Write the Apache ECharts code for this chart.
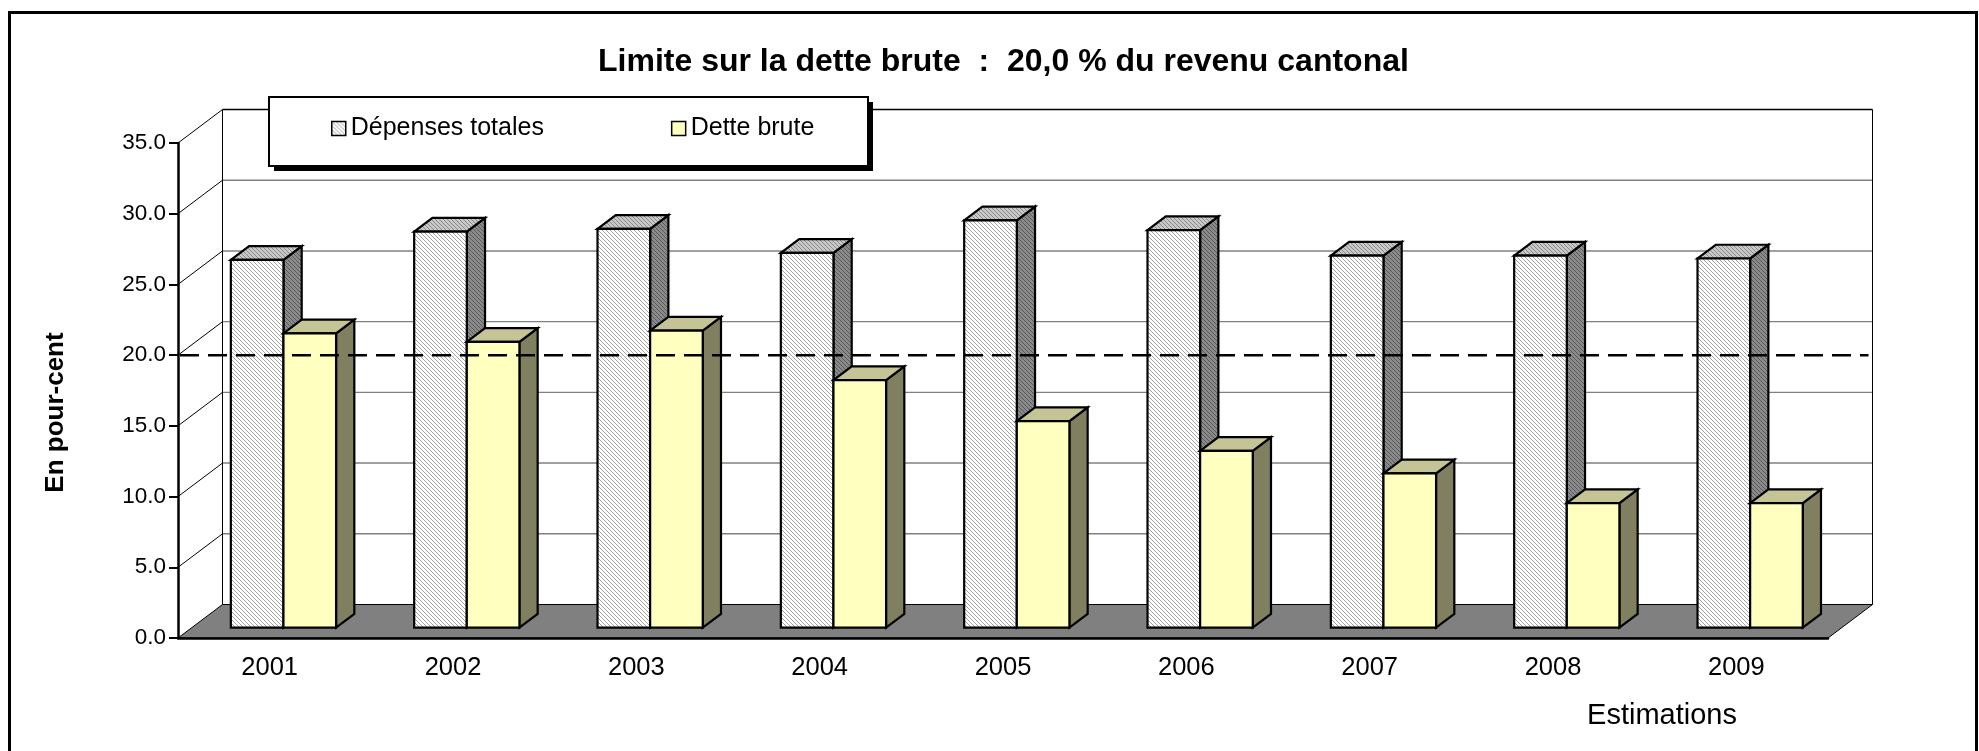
<!DOCTYPE html>
<html>
<head>
<meta charset="utf-8">
<title>Limite sur la dette brute</title>
<script src="https://cdn.jsdelivr.net/npm/echarts@6.0.0/dist/echarts.min.js"></script>
<style>
  html, body { margin: 0; padding: 0; background: #fff; }
  #chart { width: 1979px; height: 751px; }
</style>
</head>
<body>
<div id="chart"></div>
<script>
const years = ['2001', '2002', '2003', '2004', '2005', '2006', '2007', '2008', '2009'];
const depensesTotales = [26.0, 28.0, 28.2, 26.5, 28.8, 28.1, 26.3, 26.3, 26.1];
const detteBrute = [20.8, 20.2, 21.0, 17.5, 14.6, 12.5, 10.9, 8.8, 8.8];
const yTicks = [0, 5, 10, 15, 20, 25, 30, 35];
const limite = 20;

const FONT = 'Liberation Sans, Arial, sans-serif';
// fausse profondeur 3D, en px
const DX = 44.5, DY = -33.5;
const D1 = 0.31, D2 = 0.72;
const BAR_FRAC = 0.287;

function hatch(bg, fg) {
  const c = document.createElement('canvas');
  c.width = 4; c.height = 4;
  const ctx = c.getContext('2d');
  ctx.fillStyle = bg;
  ctx.fillRect(0, 0, 4, 4);
  ctx.fillStyle = fg;
  for (let i = 0; i < 4; i++) ctx.fillRect(i, i, 1, 1);
  return { image: c, repeat: 'repeat' };
}

const depFaces = {
  front: hatch('#ffffff', '#a0a0a0'),
  top: hatch('#c8c8c8', '#8a8a8a'),
  side: hatch('#8a8a8a', '#5a5a5a')
};
const detteFaces = { front: '#FFFFC0', top: '#C4C497', side: '#808060' };

function renderFrame(params, api) {
  const cs = params.coordSys;
  const x0 = cs.x, x1 = cs.x + cs.width;
  const yb = api.coord([0, 0])[1];
  const yt = api.coord([0, yTicks[yTicks.length - 1]])[1];
  const kids = [];
  // sol
  kids.push({
    type: 'polygon',
    shape: { points: [[x0, yb], [x1, yb], [x1 + DX, yb + DY], [x0 + DX, yb + DY]] },
    style: { fill: '#808080', stroke: '#000', lineWidth: 1 }
  });
  yTicks.forEach(function (v) {
    if (v === 0) return;
    const y = api.coord([0, v])[1];
    kids.push({
      type: 'line',
      shape: { x1: x0 + DX, y1: y + DY, x2: x1 + DX, y2: y + DY },
      style: { stroke: v === yTicks[yTicks.length - 1] ? '#000' : '#808080', lineWidth: 1.4 }
    });
    kids.push({
      type: 'line',
      shape: { x1: x0, y1: y, x2: x0 + DX, y2: y + DY },
      style: { stroke: '#000', lineWidth: 1 }
    });
  });
  // bords du mur du fond
  kids.push({ type: 'line', shape: { x1: x0 + DX, y1: yt + DY, x2: x0 + DX, y2: yb + DY }, style: { stroke: '#000', lineWidth: 1 } });
  kids.push({ type: 'line', shape: { x1: x1 + DX, y1: yt + DY, x2: x1 + DX, y2: yb + DY }, style: { stroke: '#000', lineWidth: 1 } });
  return { type: 'group', children: kids };
}

function makeBar(side, faces) {
  return function (params, api) {
    const cat = api.value(0);
    const base = api.coord([cat, 0]);
    const top = api.coord([cat, api.value(1)]);
    const w = api.size([1, 0])[0] * BAR_FRAC;
    const xa = side < 0 ? base[0] - w : base[0];
    const xb = xa + w;
    const fx = DX * D1, fy = DY * D1, bx = DX * D2, by = DY * D2;
    const yT = top[1], yB = base[1];
    const st = { stroke: '#000', lineWidth: 2.2, lineJoin: 'miter' };
    return {
      type: 'group',
      children: [
        {
          type: 'polygon',
          shape: { points: [[xb + fx, yT + fy], [xb + bx, yT + by], [xb + bx, yB + by], [xb + fx, yB + fy]] },
          style: Object.assign({ fill: faces.side }, st)
        },
        {
          type: 'polygon',
          shape: { points: [[xa + fx, yT + fy], [xb + fx, yT + fy], [xb + bx, yT + by], [xa + bx, yT + by]] },
          style: Object.assign({ fill: faces.top }, st)
        },
        {
          type: 'rect',
          shape: { x: xa + fx, y: yT + fy, width: w, height: yB - yT },
          style: Object.assign({ fill: faces.front }, st)
        }
      ]
    };
  };
}

function renderLimit(params, api) {
  const cs = params.coordSys;
  const y = api.coord([0, limite])[1];
  return {
    type: 'line',
    shape: { x1: cs.x + 2, y1: y, x2: cs.x + cs.width + DX - 4, y2: y },
    style: { stroke: '#000', lineWidth: 2.5, lineDash: [19, 9] }
  };
}

const chart = echarts.init(document.getElementById('chart'));
chart.setOption({
  animation: false,
  backgroundColor: '#fff',
  title: {
    text: 'Limite sur la dette brute  :  20,0 % du revenu cantonal',
    left: 598,
    top: 46,
    padding: 0,
    textStyle: { fontFamily: FONT, fontSize: 32, fontWeight: 'bold', color: '#000' }
  },
  legend: {
    left: 331,
    top: 116,
    padding: 0,
    itemWidth: 14,
    itemHeight: 14,
    itemGap: 127,
    itemTextGap: 8,
    selectedMode: false,
    z: 60,
    textStyle: { fontFamily: FONT, fontSize: 25, color: '#000' },
    data: [
      { name: 'Dépenses totales', icon: 'rect', itemStyle: { color: depFaces.front, borderColor: '#000', borderWidth: 1.5 } },
      { name: 'Dette brute', icon: 'rect', itemStyle: { color: detteFaces.front, borderColor: '#000', borderWidth: 1.5 } }
    ]
  },
  grid: { left: 178, right: 151, top: 143, bottom: 113, outerBoundsMode: 'none' },
  xAxis: {
    type: 'category',
    data: years,
    boundaryGap: true,
    z: 5,
    axisLine: { lineStyle: { color: '#000', width: 2.5 } },
    axisTick: { alignWithLabel: false, length: 8, lineStyle: { color: '#000', width: 1.5 } },
    axisLabel: { fontFamily: FONT, fontSize: 25.5, color: '#000', margin: 17 },
    splitLine: { show: false }
  },
  yAxis: {
    type: 'value',
    min: 0,
    max: 35,
    interval: 5,
    z: 5,
    axisLine: { show: true, lineStyle: { color: '#000', width: 2.5 } },
    axisTick: { show: true, length: 9, lineStyle: { color: '#000', width: 2 } },
    axisLabel: { fontFamily: FONT, fontSize: 22.5, color: '#000', margin: 12, formatter: function (v) { return v.toFixed(1); } },
    splitLine: { show: false }
  },
  graphic: [
    { type: 'rect', z: 1, shape: { x: 9.5, y: 12.5, width: 1967, height: 800 }, style: { fill: 'none', stroke: '#000', lineWidth: 3 } },
    { type: 'rect', z: 50, shape: { x: 274, y: 102, width: 599, height: 69 }, style: { fill: '#000' } },
    { type: 'rect', z: 51, shape: { x: 269, y: 97, width: 599, height: 69 }, style: { fill: '#fff', stroke: '#000', lineWidth: 2 } },
    { type: 'text', z: 52, x: 55.5, y: 412.5, rotation: Math.PI / 2, style: { text: 'En pour-cent', fontFamily: FONT, fontSize: 26, fontWeight: 'bold', fill: '#000', align: 'center', verticalAlign: 'middle' } },
    { type: 'text', z: 52, x: 1662, y: 716, style: { text: 'Estimations', fontFamily: FONT, fontSize: 29, fill: '#000', align: 'center', verticalAlign: 'middle' } }
  ],
  series: [
    { type: 'custom', name: 'cadre', z: 1, silent: true, data: [0], renderItem: renderFrame },
    {
      type: 'custom', name: 'Dépenses totales', z: 2,
      itemStyle: { color: depFaces.front },
      encode: { x: 0, y: 1 },
      data: depensesTotales.map(function (v, i) { return [i, v]; }),
      renderItem: makeBar(-1, depFaces)
    },
    {
      type: 'custom', name: 'Dette brute', z: 2,
      itemStyle: { color: detteFaces.front },
      encode: { x: 0, y: 1 },
      data: detteBrute.map(function (v, i) { return [i, v]; }),
      renderItem: makeBar(1, detteFaces)
    },
    { type: 'custom', name: 'limite', z: 3, silent: true, data: [0], renderItem: renderLimit }
  ]
});
</script>
</body>
</html>
